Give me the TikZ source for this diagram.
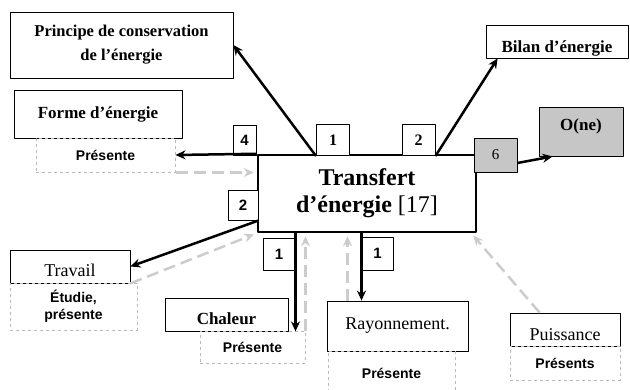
\documentclass[tikz,border=0pt]{standalone}
\usepackage{fontspec}
\setmainfont{Liberation Serif}
\setsansfont{Liberation Sans}
\usetikzlibrary{arrows.meta}

\begin{document}
\begin{tikzpicture}[x=1pt,y=-1pt,line join=round,>={Stealth[length=10pt,width=9pt]}]
	\tikzset{
		boite/.style={draw,line width=0.8pt,inner sep=0pt,align=center,font=\bfseries\fontsize{17}{24}\selectfont},
		simple/.style={boite,font=\fontsize{18}{22}\selectfont},
		ligne/.style={text height=#1,text depth=0pt},
		pres/.style={draw=gray!55,dashed,line width=1pt,inner sep=0pt,align=center,font=\sffamily\bfseries\fontsize{14}{17}\selectfont},
		etiq/.style={draw,line width=1pt,fill=white,inner sep=0pt,font=\sffamily\bfseries\fontsize{15}{17}\selectfont},
		fleche/.style={->,line width=2.5pt},
		retour/.style={->,draw=gray!40,line width=2.5pt,dash pattern=on 12pt off 6pt,shorten >=3pt}
	}
	\useasboundingbox (0,0) rectangle (630,389);
	% Boîte centrale
	\node[boite,line width=2.5pt,minimum width=218,minimum height=77,font=\fontsize{24}{27}\selectfont] (main) at (367,193.5) {\textbf{Transfert}\\\textbf{d’énergie} [17]};
	% Boîtes du haut
	\node[boite,font=\bfseries\fontsize{16.5}{24}\selectfont,minimum width=223,minimum height=66] (princ) at (121.5,45) {Principe de conservation\\de l’énergie};
	\node[boite,ligne=21pt,minimum width=142,minimum height=33] (bilan) at (557,41.5) {Bilan d’énergie};
	\node[boite,minimum width=168,minimum height=48] (forme) at (98,114) {Forme d’énergie};
	\node[pres,minimum width=139,minimum height=34] (pres1) at (105.5,155) {Présente};
	\node[boite,fill=gray!45,text height=10pt,text depth=12pt,minimum width=84,minimum height=49] (one) at (581,131.5) {O(ne)};
	\node[boite,fill=gray!45,minimum width=43,minimum height=34,font=\fontsize{15}{17}\selectfont] (six) at (495.5,155) {6};
	% Boîtes du bas
	\node[simple,ligne=20pt,minimum width=120,minimum height=33] (trav) at (70,266.5) {Travail};
	\node[pres,minimum width=127,minimum height=47] (etud) at (73.5,306.5) {Étudie,\\présente};
	\node[boite,ligne=20pt,minimum width=123,minimum height=33] (chal) at (226.5,314.5) {Chaleur};
	\node[pres,minimum width=105,minimum height=32] (pres2) at (252.5,347) {Présente};
	\node[simple,minimum width=141,minimum height=50] (ray) at (397.5,326) {Rayonnement.};
	\node[pres,minimum width=127,minimum height=44] (pres3) at (391.5,373) {Présente};
	\node[simple,ligne=22pt,minimum width=110,minimum height=33] (puis) at (565,329.5) {Puissance};
	\node[pres,minimum width=110,minimum height=34] (pres4) at (565,363) {Présents};
	% Étiquettes
	\node[etiq,minimum width=23,minimum height=30] (lab4) at (244.5,140) {4};
	\node[etiq,font=\bfseries\fontsize{16}{18}\selectfont,minimum width=33,minimum height=31] (lab1) at (333,140) {1};
	\node[etiq,font=\bfseries\fontsize{16}{18}\selectfont,minimum width=33,minimum height=31] (lab2) at (418.5,140) {2};
	\node[etiq,minimum width=30,minimum height=30] (labT) at (243,205) {2};
	\node[etiq,minimum width=32,minimum height=32] (labC) at (279,254) {1};
	\node[etiq,minimum width=31,minimum height=33] (labR) at (377.5,253.5) {1};
	% Flèches
	\draw[fleche] (main.north west) -- (pres1.east);
	\draw[retour] (pres1.south east) -- (pres1.south east -| main.west);
	\draw[fleche] (lab1.south west) -- (princ.east);
	\draw[fleche] (lab2.south east) -- ([xshift=12]bilan.south west);
	\draw[fleche] ([yshift=-8]six.east) -- ([xshift=14]one.south west);
	\draw[fleche] (labT.south east) -- (trav.east);
	\draw[retour] (trav.south east) -- (main.south west);
	\draw[fleche] (labC.east |- main.south) -- (labC.east |- chal.south);
	\draw[retour] ([xshift=10]labC.east |- chal.south) -- ([xshift=10]labC.east |- main.south);
	\draw[fleche] (labR.west |- main.south) -- (labR.west |- ray.north);
	\draw[retour] ([xshift=-14]labR.west |- ray.north) -- ([xshift=-14]labR.west |- main.south);
	\draw[retour] ([xshift=30]puis.north west) -- ([xshift=-6]main.south east);
\end{tikzpicture}
\end{document}
